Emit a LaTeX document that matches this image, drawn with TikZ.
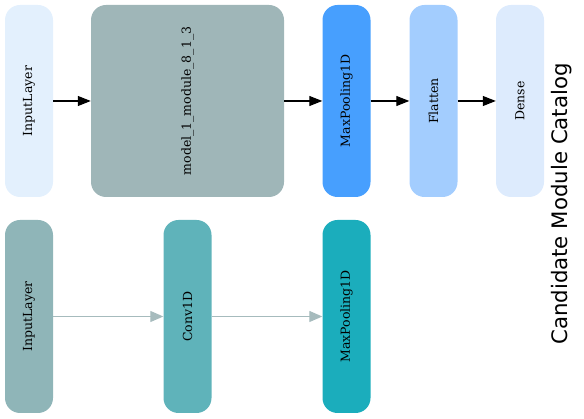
\documentclass[tikz,border=0pt]{standalone}
\usepackage{fontspec}
\setmainfont{DejaVu Serif}
\newfontfamily\titlefont{DejaVu Sans}
\usetikzlibrary{arrows.meta}
\definecolor{cInTop}{HTML}{E3F0FD}
\definecolor{cModel}{HTML}{9FB6B8}
\definecolor{cMaxTop}{HTML}{479FFE}
\definecolor{cFlat}{HTML}{A3CDFE}
\definecolor{cDense}{HTML}{DDEBFD}
\definecolor{cInBot}{HTML}{8FB5B8}
\definecolor{cConv}{HTML}{5FB3BA}
\definecolor{cMaxBot}{HTML}{1BADBC}
\definecolor{cGrayArrow}{HTML}{A6BBBD}
\tikzset{
  layerbox/.style={rectangle, rounded corners=15pt, inner sep=0pt, draw=none,
    minimum width=48pt, minimum height=192pt, font=\fontsize{12.5}{14}\selectfont},
  blackarrow/.style={draw=black, line width=1.2pt, -{Triangle[length=13pt,width=10pt]}},
  grayarrow/.style={draw=cGrayArrow, line width=1.2pt, -{Triangle[length=13pt,width=11pt]}},
}
\newcommand{\vlabel}[1]{\rotatebox{90}{#1}}
\begin{document}
\begin{tikzpicture}[x=1pt,y=-1pt]
\useasboundingbox (0,0) rectangle (584,419);
% top row
\node[layerbox, fill=cInTop] (in1) at (29,101) {\vlabel{InputLayer}};
\node[layerbox, fill=cModel, minimum width=193pt] (mod) at (187.5,101) {\vlabel{model\_1\_module\_8\_1\_3}};
\node[layerbox, fill=cMaxTop] (max1) at (346.5,101) {\vlabel{MaxPooling1D}};
\node[layerbox, fill=cFlat] (flat) at (433.5,101) {\vlabel{Flatten}};
\node[layerbox, fill=cDense] (dense) at (520,101) {\vlabel{Dense}};
\draw[blackarrow] (in1) -- (mod);
\draw[blackarrow] (mod) -- (max1);
\draw[blackarrow] (max1) -- (flat);
\draw[blackarrow] (flat) -- (dense);
% bottom row
\node[layerbox, fill=cInBot, minimum height=193pt] (in2) at (29,316.5) {\vlabel{InputLayer}};
\node[layerbox, fill=cConv, minimum height=193pt] (conv) at (187.5,316.5) {\vlabel{Conv1D}};
\node[layerbox, fill=cMaxBot, minimum height=193pt] (max2) at (346.5,316.5) {\vlabel{MaxPooling1D}};
\draw[grayarrow] (in2) -- (conv);
\draw[grayarrow] (conv) -- (max2);
% title
\node[rotate=90, inner sep=0pt, font=\titlefont\fontsize{21.3}{24}\selectfont] (title) at (562,204) {Candidate Module Catalog};
\end{tikzpicture}
\end{document}
